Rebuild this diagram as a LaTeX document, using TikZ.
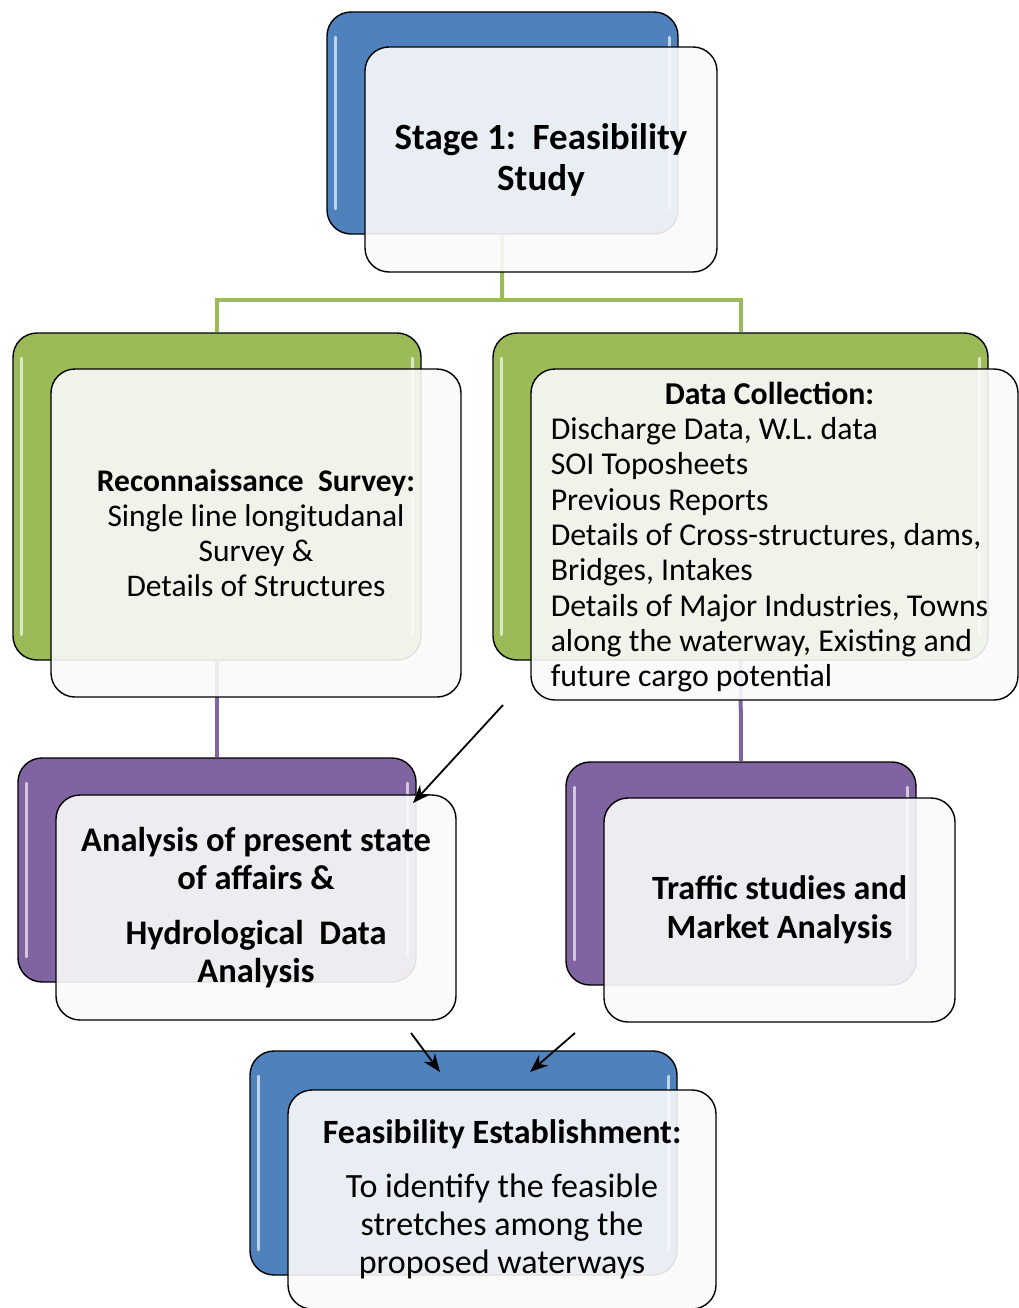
\documentclass[tikz,border=0pt]{standalone}
\usepackage{fontspec}
\setmainfont{Carlito}
\usetikzlibrary{arrows.meta,calc}
\definecolor{bblue}{HTML}{4F81BD}
\definecolor{bgreen}{HTML}{9BBB59}
\definecolor{bpurple}{HTML}{8064A2}
\begin{document}
\begin{tikzpicture}[x=1pt,y=-1pt,
  back/.style={draw=black, line width=1.4pt, rounded corners=24pt, inner sep=0pt},
  front/.style={draw=black, line width=1.4pt, rounded corners=24pt, inner sep=0pt,
    fill={rgb,255:red,250;green,250;blue,250}, fill opacity=0.9, text opacity=1},
  gloss/.style={white, line width=3.5pt, line cap=round, opacity=0.65},
  gline/.style={draw=bgreen, line width=4pt},
  pline/.style={draw=bpurple, line width=4pt},
  arr/.style={-{Stealth[length=18pt,width=14pt]}, line width=1.8pt, black},
]
\fill[white] (0,0) rectangle (1019,1308);
\useasboundingbox (0,0) rectangle (1019,1308);

% back boxes
\node[back, fill=bblue,   minimum width=351pt, minimum height=222pt] (topB) at (502.5,123) {};
\node[back, fill=bgreen,  minimum width=408pt, minimum height=327pt] (recB) at (217,496.5) {};
\node[back, fill=bgreen,  minimum width=495pt, minimum height=327pt] (datB) at (740.5,496.5) {};
\node[back, fill=bpurple, minimum width=398pt, minimum height=224pt] (anaB) at (217,870) {};
\node[back, fill=bpurple, minimum width=350pt, minimum height=223pt] (trfB) at (741,873.5) {};
\node[back, fill=bblue,   minimum width=427pt, minimum height=224pt] (feaB) at (463.5,1163) {};

% gloss highlights
\foreach \n in {topB,recB,datB,anaB,trfB,feaB}{
  \draw[gloss] ($(\n.north west)+(9,26)$) -- ($(\n.south west)+(9,-26)$);
  \draw[gloss] ($(\n.north east)+(-9,26)$) -- ($(\n.south east)+(-9,-26)$);
}

% connectors
\coordinate (gbar) at (502,300);
\draw[gline] (topB.south) -- (gbar);
\draw[gline] (recB.north) |- (gbar) -| (datB.north);
\draw[pline] (recB.south) -- (anaB.north);
\draw[pline] (datB.south) -- (trfB.north);

% front boxes
\node[front, minimum width=352pt, minimum height=225pt, align=center,
  font=\fontsize{37}{41}\selectfont\bfseries] (topF) at (541,159.5)
  {Stage 1:\ \ Feasibility\\Study};
\node[front, minimum width=410pt, minimum height=328pt, align=center,
  font=\fontsize{31.5}{35}\selectfont] (recF) at (256,533)
  {{\bfseries Reconnaissance\ \ Survey:}\\Single line longitudanal\\Survey \&\\Details of Structures};
\node[front, minimum width=487pt, minimum height=331pt,
  font=\fontsize{31.8}{35.3}\selectfont] (datF) at (774.5,534.5)
  {\raisebox{-4pt}[\height][\depth]{\begin{tabular}{@{}l@{}}\multicolumn{1}{@{}c@{}}{\bfseries Data Collection:}\\
   Discharge Data, W.L. data\\SOI Toposheets\\Previous Reports\\
   Details of Cross-structures, dams,\\Bridges, Intakes\\
   Details of Major Industries, Towns\\along the waterway, Existing and\\
   future cargo potential\end{tabular}}\hspace*{10pt}};
\node[front, minimum width=400pt, minimum height=225pt, align=center,
  font=\fontsize{34.5}{38}\selectfont\bfseries] (anaF) at (256,907.5)
  {Analysis of present state\\of affairs \&\\[17pt]Hydrological\ \ Data\\Analysis};
\node[front, minimum width=351pt, minimum height=224pt, align=center,
  font=\fontsize{34}{39}\selectfont\bfseries] (trfF) at (779.5,910)
  {Traffic studies and\\Market Analysis};
\node[front, minimum width=428pt, minimum height=219pt, align=center,
  font=\fontsize{34}{38}\selectfont] (feaF) at (502,1199.5)
  {{\bfseries Feasibility Establishment:}\\[16pt]To identify the feasible\\stretches among the\\proposed waterways};

% arrows
\coordinate (a1s) at (503,705);  \coordinate (a1e) at (413,803);
\coordinate (a2s) at (411,1033); \coordinate (a2e) at (440,1072);
\coordinate (a3s) at (575,1033); \coordinate (a3e) at (530,1072);
\draw[arr] (a1s) -- (a1e);
\draw[arr] (a2s) -- (a2e);
\draw[arr] (a3s) -- (a3e);
\end{tikzpicture}
\end{document}
